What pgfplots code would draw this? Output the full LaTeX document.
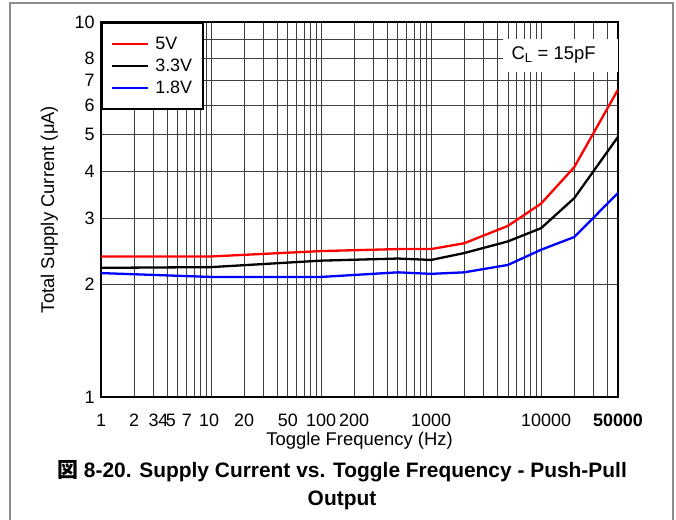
\documentclass[border=0pt]{standalone}
\usepackage{fontspec}
\setmainfont{Liberation Sans}
\newfontfamily\cjk{Noto Sans CJK JP}
\usepackage{pgfplots}
\pgfplotsset{compat=1.18}
\newcommand\sh[2]{\makebox[0pt][l]{\hspace*{#1}\makebox[0pt]{#2}}}

\begin{document}
\begin{tikzpicture}[x=1bp,y=1bp]
\useasboundingbox (-101,-123) rectangle (575,397);
\draw[black!45, line width=1.2bp] (-91,-140) -- (-91,394) -- (572,394) -- (572,-140);
\begin{axis}[
  at={(0,0)}, anchor=south west,
  scale only axis, width=517bp, height=375bp,
  xmode=log, ymode=log,
  xmin=1, xmax=50000, ymin=1, ymax=10,
  xtick={1,2,3,4,5,7,10,20,50,100,200,1000,10000,50000},
  xticklabels={1,2,3,\sh{-4bp}{4},\sh{-7bp}{5},\sh{-7bp}{7},\sh{-2bp}{10},20,50,100,200,1000,\sh{5bp}{10000},\textbf{50000}},
  minor xtick={6,8,9,30,40,60,70,80,90,300,400,500,600,700,800,900,2000,3000,4000,5000,6000,7000,8000,9000,20000,30000,40000},
  ytick={1,2,3,4,5,6,7,8,10},
  yticklabels={1,2,3,4,5,6,7,8,10},
  minor ytick={9},
  grid=both,
  major grid style={black!75, line width=0.95bp},
  minor grid style={black!75, line width=0.95bp},
  tick style={draw=none},
  axis line style={line width=2.2bp},
  /pgf/number format/assume math mode=true,
  ticklabel style={font=\fontsize{18}{21}\selectfont},
  xticklabel style={anchor=base, yshift=-30bp},
  yticklabel style={xshift=-3bp},
  xlabel={Toggle Frequency (Hz)},
  ylabel={Total Supply Current (μA)},
  label style={font=\fontsize{18.5}{22}\selectfont},
  xlabel style={at={(axis description cs:0.5,-0.117)}, anchor=center},
  ylabel style={at={(axis description cs:-0.1,0.5)}, anchor=center},
  legend style={at={(0,1)}, anchor=north west, draw=black, line width=2bp,
    font=\fontsize{18}{21}\selectfont, inner xsep=9bp, inner ysep=12bp,
    row sep=4bp, column sep=4bp, cells={anchor=west}},
  legend image code/.code={\draw[#1] (0bp,0bp) -- (36bp,0bp);},
]
\addplot[red, line width=2.3bp] coordinates {
(1,2.37) (10,2.37) (100,2.45) (500,2.48) (1000,2.48) (2000,2.57) (5000,2.86) (10000,3.28) (20000,4.1) (50000,6.6)};
\addlegendentry{5V}
\addplot[black, line width=2.3bp] coordinates {
(1,2.21) (10,2.22) (100,2.31) (500,2.34) (1000,2.32) (2000,2.42) (5000,2.6) (10000,2.82) (20000,3.39) (50000,4.94)};
\addlegendentry{3.3V}
\addplot[blue, line width=2.3bp] coordinates {
(1,2.14) (10,2.09) (100,2.09) (500,2.15) (1000,2.13) (2000,2.15) (5000,2.25) (10000,2.47) (20000,2.67) (50000,3.5)};
\addlegendentry{1.8V}
\node[fill=white, minimum width=115bp, minimum height=33bp, inner sep=0pt,
  font=\fontsize{18.5}{22}\selectfont] at (axis description cs:0.889,0.911) {C\textsubscript{L} = 15pF\hspace*{14bp}};
\end{axis}
\node[font=\fontsize{21}{25}\selectfont\bfseries] at (241,-74) {{\cjk 図} 8-20. Supply Current vs. Toggle Frequency - Push-Pull};
\node[font=\fontsize{21}{25}\selectfont\bfseries] at (241,-103) {Output};
\end{tikzpicture}
\end{document}
